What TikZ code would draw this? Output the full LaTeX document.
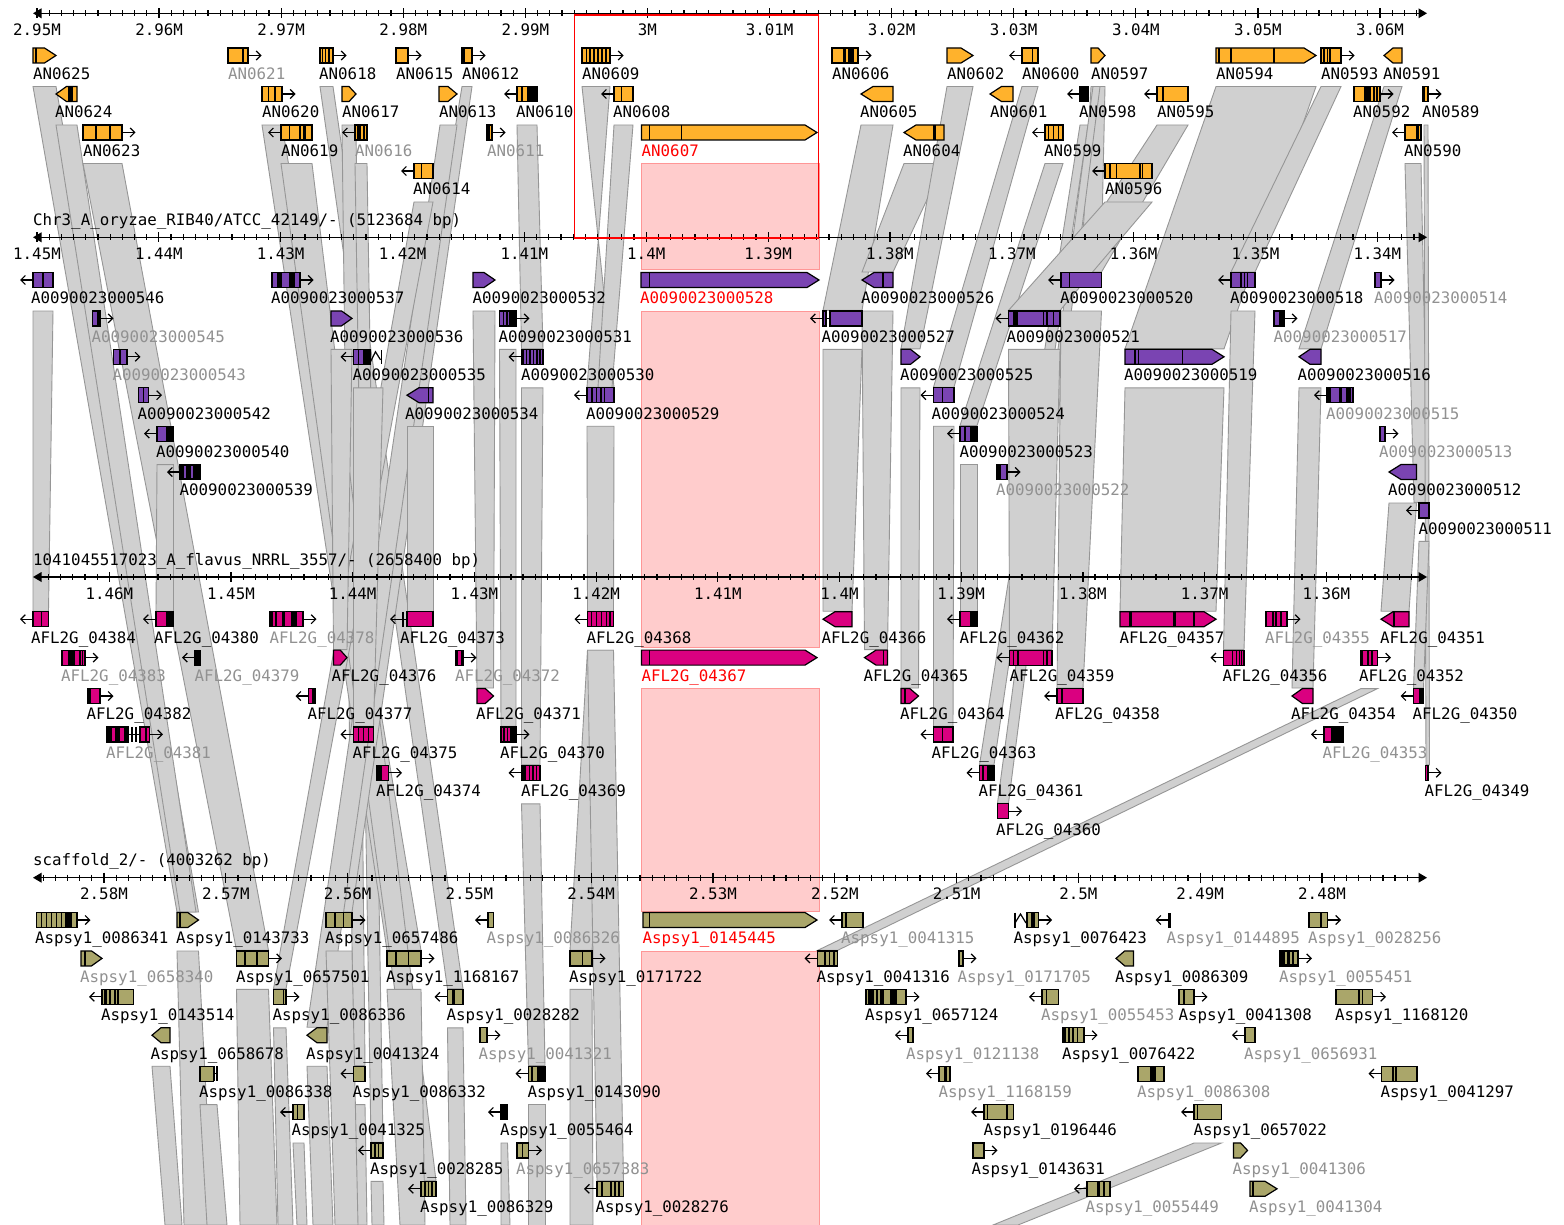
\documentclass[tikz,border=0pt]{standalone}
\usepackage{fontspec}
\newfontfamily\gmono{DejaVu Sans Mono}
\usetikzlibrary{arrows.meta}
\definecolor{cO}{RGB}{255,178,44}
\definecolor{cP}{RGB}{122,68,178}
\definecolor{cM}{RGB}{218,0,128}
\definecolor{cV}{RGB}{170,166,106}
\definecolor{lkf}{RGB}{208,208,208}
\definecolor{lke}{RGB}{150,150,150}
\definecolor{pkf}{RGB}{255,204,204}
\definecolor{pke}{RGB}{255,150,150}
\definecolor{lgy}{RGB}{145,145,145}
\newcounter{lbc}
\newcommand\qf{\gmono\fontsize{15.8}{18}\selectfont}
\newcommand\qGb[3]{\filldraw[gl,fill=#3] (#1,\ry-7.5) rectangle (#2,\ry+7.5);}
\newcommand\qGr[3]{\draw[ar] (#2,\ry) -- ({#2+13.5},\ry);\qGb{#1}{#2}{#3}}
\newcommand\qGl[3]{\draw[ar] (#1,\ry) -- ({#1-13},\ry);\qGb{#1}{#2}{#3}}
\newcommand\qPr[3]{\pgfmathsetmacro\gdd{min(12,0.5*(#2-#1))}\filldraw[gl,fill=#3] (#1,\ry-7.5) -- ({#2-\gdd},\ry-7.5) -- (#2,\ry) -- ({#2-\gdd},\ry+7.5) -- (#1,\ry+7.5) -- cycle;}
\newcommand\qPl[3]{\pgfmathsetmacro\gdd{min(12,0.5*(#2-#1))}\filldraw[gl,fill=#3] (#2,\ry-7.5) -- ({#1+\gdd},\ry-7.5) -- (#1,\ry) -- ({#1+\gdd},\ry+7.5) -- (#2,\ry+7.5) -- cycle;}
\newcommand\qV[1]{\draw[line width=1.2pt] (#1,\ry-7.5) -- (#1,\ry+7.5);}
\newcommand\qK[2]{\fill[black] (#1,\ry-7.5) rectangle (#2,\ry+7.5);}
\newcommand\qLb[2]{\stepcounter{lbc}\node[lbl] (lb\thelbc) at (#1,\ry+23.8) {#2};}
\newcommand\qLg[2]{\stepcounter{lbc}\node[lbl,text=lgy] (lb\thelbc) at (#1,\ry+23.8) {#2};}
\newcommand\qLr[2]{\stepcounter{lbc}\node[lbl,text=red] (lb\thelbc) at (#1,\ry+23.8) {#2};}
\newcommand\qLk[6]{\filldraw[lk] (#1,#3) -- (#2,#3) -- (#5,#6) -- (#4,#6) -- cycle;}
\newcommand\qAxis[1]{\draw[ax] (38,#1) -- (1420,#1); \fill (33,#1) -- (41.5,#1-5) -- (41.5,#1+5) -- cycle; \fill (1427,#1) -- (1418.5,#1-5) -- (1418.5,#1+5) -- cycle;}
\newcommand\qTicks[5]{\foreach \k in {#4,...,#5} {\draw[tk] ({#2+#3*\k},#1-3) -- ({#2+#3*\k},#1+3);}}
\newcommand\qMaj[5]{\foreach \i/\t in {#4} {\draw[tk] ({#2+#3*\i},#1-5) -- ({#2+#3*\i},#1+5); \node[tl] (#5\i) at ({#2+#3*\i},#1+22) {\t};}}
\begin{document}
\begin{tikzpicture}[x=1pt,y=-1pt,
 gl/.style={draw=black,line width=1.2pt},
 lk/.style={fill=lkf,draw=lke,line width=0.9pt},
 pk/.style={fill=pkf,draw=pke,line width=0.9pt},
 ar/.style={line width=1.2pt,-{Straight Barb[length=4.5pt,width=9pt]}},
 ax/.style={line width=1.4pt},
 tk/.style={line width=1.2pt},
 lbl/.style={font=\qf,inner sep=0pt,anchor=base west},
 tl/.style={font=\qf,inner sep=0pt,anchor=base}]
\useasboundingbox[fill=white] (0,0) rectangle (1564,1225);
\begin{scope}
\clip (0,0) rectangle (1564,1225);
% selected (pink) link
\filldraw[pk] (641,163.5) rectangle (819,269);
\filldraw[pk] (641,311) rectangle (819,647);
\filldraw[pk] (641,688.6) rectangle (819,911);
\filldraw[pk] (641,951) rectangle (819,1226);
% links track1 -> track2 (and beyond)
\filldraw[lk] (582,86.5) -- (610,86.5) -- (587,387.2) -- (614,387.2) -- cycle;
\qLk{614}{633}{125}{598}{612}{387.2}
\qLk{517}{537}{125}{521.5}{543}{348.8}
\qLk{320}{333}{86.5}{447.5}{463}{988.8}
\qLk{342}{356}{125}{353.5}{365}{1065.6}
\qLk{355}{367}{163.5}{371}{383}{1142.4}
\qLk{262}{282}{125}{387}{421}{950.4}
\qLk{281}{312}{163.5}{421}{436}{1180.8}
\qLk{462}{472}{86.5}{326}{352}{912}
\qLk{440}{457}{125}{307}{327}{1027.2}
\qLk{414}{433}{202}{273.5}{286}{988.8}
\qLk{33}{56}{86.5}{177}{198.5}{912}
\qLk{56}{77}{125}{180}{196}{912}
\qLk{83}{122}{163.5}{236.5}{268.5}{950.4}
\qLk{861}{893}{125}{823}{862}{310.4}
\qLk{904}{944}{163.5}{862}{893}{272}
\qLk{947}{973}{86.5}{901}{920}{348.8}
\qLk{1022}{1038}{86.5}{933.5}{954}{387.2}
\qLk{1045}{1063}{163.5}{960}{977}{425.6}
\qLk{1091}{1105}{86.5}{1081}{1101}{272}
\qLk{1080}{1088}{125}{979.5}{994}{764.8}
\qLk{1093}{1100}{86.5}{997.5}{1008.5}{803.2}
\qLk{1157}{1188}{125}{1061}{1101.5}{272}
\qLk{1105}{1152}{202}{1008.5}{1060}{310.4}
\qLk{1216}{1316}{86.5}{1125}{1224}{348.8}
\qLk{1321}{1341}{86.5}{1231}{1255}{272}
\qLk{1384}{1402}{86.5}{1299}{1321}{348.8}
\qLk{1405}{1421}{163.5}{1414}{1428}{502.4}
\qLk{1424}{1428}{125}{1426}{1429.5}{764.8}
% links track2 -> track3
\qLk{33}{53}{311}{33}{48.5}{611.2}
\qLk{157}{173.5}{464.6}{156}{173.5}{611.2}
\qLk{331}{352}{349.4}{333.5}{347}{649.6}
\qLk{353.5}{383}{387.8}{353.5}{373.5}{726.4}
\qLk{407}{433}{426.2}{407}{433}{611.2}
\qLk{473}{495}{311}{477}{493.5}{688}
\qLk{499.5}{516}{349.4}{501}{516}{726.4}
\qLk{521.5}{543}{387.8}{521.5}{540}{764.8}
\qLk{587}{614}{426.2}{587.5}{613.5}{611.2}
\qLk{823}{862}{349.4}{823}{852}{611.2}
\qLk{862}{893}{311}{864.5}{887.5}{649.6}
\qLk{901}{920}{387.8}{901}{918.5}{688}
\qLk{933.5}{954}{426.2}{933.5}{953}{726.4}
\qLk{960}{977}{464.6}{960}{977}{611.2}
\qLk{1008.5}{1060}{349.4}{1009.5}{1052}{649.6}
\qLk{1061}{1101.5}{311}{1057}{1083}{688}
\qLk{1125}{1224}{387.8}{1120}{1216}{611.2}
\qLk{1231}{1255}{311}{1223.5}{1244}{649.6}
\qLk{1299}{1321}{387.8}{1292}{1313}{688}
\qLk{1389}{1416.5}{503}{1381}{1409}{611.2}
\qLk{1419}{1429}{541.4}{1413.5}{1423.5}{688}
% links track3 -> track4
\qLk{521.5}{540}{803.8}{528.5}{545}{1065.6}
\qLk{587.5}{613.5}{650.2}{570}{592}{950.4}
\qLk{587.5}{613.5}{650.2}{597}{623.5}{1180.8}
\qLk{1361}{1377.5}{688.6}{817.5}{837.5}{950.4}
% links track4 -> below
\qLk{177}{198.5}{951}{184}{213}{1225}
\qLk{236.5}{268.5}{989.4}{240}{277}{1225}
\qLk{152}{170}{1066.2}{165}{182}{1225}
\qLk{200}{217}{1104.6}{207}{227}{1225}
\qLk{273.5}{286}{1027.8}{278}{293}{1225}
\qLk{307}{327}{1066.2}{313}{333}{1225}
\qLk{293}{304}{1143}{297}{307}{1225}
\qLk{353.5}{365}{1104.6}{355}{367}{1225}
\qLk{371}{383}{1181.4}{372}{384}{1225}
\qLk{326}{352}{951}{335}{358}{1225}
\qLk{387}{421}{989.4}{400}{425}{1225}
\qLk{447.5}{463}{1027.8}{450}{466}{1225}
\qLk{501}{507.5}{1143}{501}{510}{1225}
\qLk{528.5}{545}{1104.6}{528.5}{545}{1225}
\qLk{570}{592}{989.4}{570}{593}{1225}
\qLk{1194}{1221.5}{1143}{993}{1018}{1225}
\end{scope}
% axes
\qAxis{13.3}
\qTicks{13.3}{37}{12.209}{0}{113}
\qMaj{13.3}{37}{122.09}{0/2.95M,1/2.96M,2/2.97M,3/2.98M,4/2.99M,5/3M,6/3.01M,7/3.02M,8/3.03M,9/3.04M,10/3.05M,11/3.06M}{ma}
\qAxis{237.3}
\qTicks{237.3}{37}{12.185}{0}{113}
\qMaj{237.3}{37}{121.85}{0/1.45M,1/1.44M,2/1.43M,3/1.42M,4/1.41M,5/1.4M,6/1.39M,7/1.38M,8/1.37M,9/1.36M,10/1.35M,11/1.34M}{mb}
\qAxis{577}
\qTicks{577}{109.3}{12.17}{-5}{107}
\qMaj{577}{109.3}{121.7}{0/1.46M,1/1.45M,2/1.44M,3/1.43M,4/1.42M,5/1.41M,6/1.4M,7/1.39M,8/1.38M,9/1.37M,10/1.36M}{mc}
\qAxis{877.7}
\qTicks{877.7}{104}{12.18}{-5}{107}
\qMaj{877.7}{104}{121.8}{0/2.58M,1/2.57M,2/2.56M,3/2.55M,4/2.54M,5/2.53M,6/2.52M,7/2.51M,8/2.5M,9/2.49M,10/2.48M}{md}
\node[lbl] (title2) at (33,226) {Chr3\_A\_oryzae\_RIB40/ATCC\_42149/- (5123684 bp)};
\node[lbl] (title3) at (33,565.5) {1041045517023\_A\_flavus\_NRRL\_3557/- (2658400 bp)};
\node[lbl] (title4) at (33,865.5) {scaffold\_2/- (4003262 bp)};
% ===== track 1 genes =====
\def\ry{55.5}
\qPr{33}{56}{cO}\qV{36}\qLb{33}{AN0625}
\qGr{228}{248}{cO}\qV{243}\qLg{228}{AN0621}
\qGr{320}{333}{cO}\qV{322.5}\qV{325.5}\qV{329}\qLb{319}{AN0618}
\qGr{396}{408}{cO}\qLb{396}{AN0615}
\qGr{462}{472}{cO}\qK{462}{465}\qLb{462}{AN0612}
\qGr{582}{610}{cO}\qV{586.5}\qV{590}\qV{594}\qV{598}\qV{602}\qV{606}\qLb{582}{AN0609}
\qGr{832}{858}{cO}\qK{843}{846}\qK{848}{854}\qLb{832}{AN0606}
\qPr{947}{973}{cO}\qLb{947}{AN0602}
\qGl{1022}{1038}{cO}\qV{1032.5}\qLb{1022}{AN0600}
\qPr{1091}{1105}{cO}\qLb{1091}{AN0597}
\qPr{1216}{1316}{cO}\qK{1218}{1220}\qV{1231}\qV{1274}\qLb{1216}{AN0594}
\qGr{1321}{1341}{cO}\qV{1324}\qV{1327.3}\qV{1330}\qLb{1321}{AN0593}
\qPl{1384}{1402}{cO}\qLb{1383}{AN0591}
\def\ry{94}
\qPl{56}{77}{cO}\qK{68}{72.5}\qLb{55}{AN0624}
\qGr{262}{282}{cO}\qV{268.5}\qV{275}\qLb{262}{AN0620}
\qPr{342}{356}{cO}\qLb{342}{AN0617}
\qPr{439}{457}{cO}\qLb{439}{AN0613}
\qGl{517}{537}{cO}\qV{522}\qK{527}{537}\qLb{516}{AN0610}
\qGl{614}{633}{cO}\qV{621.5}\qLb{613}{AN0608}
\qPl{861}{893}{cO}\qLb{860}{AN0605}
\qPl{990}{1013}{cO}\qLb{990}{AN0601}
\qGl{1080}{1088}{black}\qLb{1079}{AN0598}
\qGl{1157}{1188}{cO}\qV{1163}\qLb{1157}{AN0595}
\qGr{1354}{1380}{cO}\qK{1364}{1371}\qV{1374}\qV{1377}\qLb{1353}{AN0592}
\qGr{1423}{1428}{cO}\qV{1424}\qLb{1422}{AN0589}
\def\ry{132.5}
\qGr{83}{122}{cO}\qV{96}\qV{110}\qLb{83}{AN0623}
\qGl{281}{312}{cO}\qV{289.5}\qV{300}\qK{303}{306}\qLb{281}{AN0619}
\qGl{355}{367}{cO}\qK{357}{361}\qV{364}\qLg{355}{AN0616}
\qGr{487}{492}{cO}\qV{489}\qLg{487}{AN0611}
\qPr{641.5}{817}{cO}\qV{649.5}\qV{681.5}\qLr{641.5}{AN0607}
\qPl{904}{944}{cO}\qK{933}{936}\qLb{903}{AN0604}
\qGl{1045}{1063}{cO}\qV{1048.5}\qV{1053.5}\qV{1058.5}\qLb{1044}{AN0599}
\qGl{1405}{1421}{cO}\qK{1415.5}{1419}\qLb{1404}{AN0590}
\def\ry{171}
\qGl{414}{433}{cO}\qV{421.5}\qLb{413}{AN0614}
\qGl{1105}{1152}{cO}\qV{1110}\qV{1116.5}\qV{1140}\qV{1142.5}\qLb{1105}{AN0596}
% ===== track 2 genes =====
\def\ry{280}
\qGl{33}{53}{cP}\qV{43}\qLb{31}{A0090023000546}
\qGr{272}{300}{cP}\qK{277}{282}\qK{289}{295}\qLb{271}{A0090023000537}
\qPr{473}{495}{cP}\qLb{472.5}{A0090023000532}
\qPr{641}{819}{cP}\qV{649.5}\qLr{640}{A0090023000528}
\qPl{862}{893}{cP}\qV{883}\qLb{861}{A0090023000526}
\qGl{1061}{1101.5}{cP}\qV{1069.5}\qLb{1060}{A0090023000520}
\qGl{1231}{1255}{cP}\qV{1241}\qV{1244.5}\qV{1247.5}\qLb{1230}{A0090023000518}
\qGr{1375}{1381}{cP}\qLg{1374}{A0090023000514}
\def\ry{318.4}
\qGr{92.5}{100}{cP}\qV{98}\qLg{91.5}{A0090023000545}
\qPr{331}{352}{cP}\qLb{330}{A0090023000536}
\qGr{499.5}{516}{cP}\qV{503.5}\qV{507}\qK{508.5}{516}\qLb{498.5}{A0090023000531}
\draw[ar] (823,\ry) -- (810,\ry);
\draw[line width=1.2pt] (826,\ry) -- (830,\ry);
\qGb{823}{826}{cP}\qGb{830}{862}{cP}\qLb{821.5}{A0090023000527}
\qGl{1008.5}{1060}{cP}\qK{1012.5}{1017.5}\qV{1043.5}\qV{1047}\qV{1053.5}\qLb{1006.5}{A0090023000521}
\qGr{1274}{1284}{cP}\qK{1279}{1284}\qLg{1273.5}{A0090023000517}
\def\ry{356.8}
\qGr{113.5}{127}{cP}\qV{120}\qLg{112.5}{A0090023000543}
\qGl{353.5}{370}{cP}\qV{358.5}\qK{363}{370}
\draw[line width=1.2pt] (370,\ry+6) -- (375.5,\ry-5) -- (380.5,\ry+3);
\draw[line width=1.6pt] (381.5,\ry-6.5) -- (381.5,\ry+7);
\qLb{352.5}{A0090023000535}
\qGl{521.5}{543}{cP}\qK{521.5}{524}\qV{526.5}\qV{530}\qV{533.5}\qV{537}\qV{540}\qLb{521}{A0090023000530}
\qPr{901}{920}{cP}\qLb{900}{A0090023000525}
\qPr{1125}{1224}{cP}\qK{1134}{1136}\qV{1138.5}\qV{1182.5}\qLb{1124}{A0090023000519}
\qPl{1299}{1321}{cP}\qLb{1297.5}{A0090023000516}
\def\ry{395.2}
\qGr{138.5}{148.5}{cP}\qV{143.5}\qLb{137.5}{A0090023000542}
\qPl{407}{433}{cP}\qV{428.5}\qLb{405}{A0090023000534}
\qGl{587}{614}{cP}\qV{592}\qV{596.5}\qK{600}{602}\qV{604.5}\qLb{586}{A0090023000529}
\qGl{933.5}{954}{cP}\qV{942.5}\qLb{931.5}{A0090023000524}
\qGl{1327}{1353}{cP}\qK{1327}{1331}\qK{1339}{1342}\qK{1346}{1351}\qLg{1326}{A0090023000515}
\def\ry{433.6}
\qGl{157}{173.5}{cP}\qK{165.5}{173.5}\qLb{156}{A0090023000540}
\qGl{960}{977}{cP}\qV{965}\qK{969.5}{977}\qLb{959.5}{A0090023000523}
\qGr{1380}{1385}{cP}\qLg{1379}{A0090023000513}
\def\ry{472}
\qGl{180}{200}{black}\fill[cP] (183.5,\ry-6) rectangle (185.5,\ry+6);\fill[cP] (190.5,\ry-6) rectangle (192.5,\ry+6);\qLb{179.5}{A0090023000539}
\qGr{997}{1007}{cP}\qK{997}{1000.5}\qLg{996}{A0090023000522}
\qPl{1389}{1416.5}{cP}\qLb{1388}{A0090023000512}
\def\ry{510.4}
\qGl{1419}{1429}{cP}\qLb{1418.5}{A0090023000511}
% ===== track 3 genes =====
\def\ry{619.2}
\qGl{33}{48.5}{cM}\qV{41.5}\qLb{31}{AFL2G\_04384}
\qGl{156}{173.5}{cM}\qK{166}{173.5}\qLb{154}{AFL2G\_04380}
\qGr{270}{303}{cM}\qK{270}{273}\qV{276}\qK{282}{285}\qK{291}{297}\qLg{269.5}{AFL2G\_04378}
\draw[ar] (402.5,\ry) -- (390,\ry);
\draw[line width=1.2pt] (402.5,\ry) -- (407,\ry);
\draw[line width=2pt] (403,\ry-7.5) -- (403,\ry+7.5);
\qGb{407}{433}{cM}\qLb{400}{AFL2G\_04373}
\qGl{587.5}{613.5}{cM}\qV{591.5}\qV{596.5}\qV{601.5}\qV{606.5}\qV{610}\qLb{586.5}{AFL2G\_04368}
\qPl{823}{852}{cM}\qLb{821.5}{AFL2G\_04366}
\qGl{960}{977}{cM}\qK{969.5}{977}\qLb{959.5}{AFL2G\_04362}
\qPr{1120}{1216}{cM}\qK{1129}{1132}\qK{1173}{1176}\qV{1194}\qLb{1119.5}{AFL2G\_04357}
\qGr{1266}{1287}{cM}\qV{1273}\qV{1276}\qK{1280}{1282}\qLg{1265}{AFL2G\_04355}
\qPl{1381}{1409}{cM}\qV{1394}\qLb{1380}{AFL2G\_04351}
\def\ry{657.6}
\qGr{62}{85}{cM}\qK{68}{75}\qV{80}\qV{82.5}\qLg{61}{AFL2G\_04383}
\qGl{195}{200}{black}\qLg{194.5}{AFL2G\_04379}
\qPr{333.5}{347}{cM}\qLb{331.5}{AFL2G\_04376}
\qGr{456}{463}{cM}\qK{456}{458}\qK{460.5}{463}\qLg{455}{AFL2G\_04372}
\qPr{641.5}{817}{cM}\qV{649.5}\qLr{641.5}{AFL2G\_04367}
\qPl{864.5}{887.5}{cM}\qV{883.5}\qLb{863.5}{AFL2G\_04365}
\qGl{1009.5}{1052}{cM}\qV{1013.5}\qK{1016.5}{1018.5}\qV{1043.5}\qV{1047}\qLb{1009.5}{AFL2G\_04359}
\qGl{1223.5}{1244}{cM}\qV{1232.5}\qK{1235.5}{1237}\qV{1239.5}\qV{1241.5}\qLb{1222.5}{AFL2G\_04356}
\qGr{1361}{1377.5}{cM}\qK{1361}{1363}\qV{1368}\qV{1372}\qLb{1359}{AFL2G\_04352}
\def\ry{696}
\qGr{88}{100}{cM}\qK{88}{90.5}\qLb{86.5}{AFL2G\_04382}
\qGl{308.5}{315}{cM}\qK{311.5}{315}\qLb{307.5}{AFL2G\_04377}
\qPr{477}{493.5}{cM}\qLb{476}{AFL2G\_04371}
\qPr{901}{918.5}{cM}\qV{905}\qLb{900}{AFL2G\_04364}
\qGl{1057}{1083}{cM}\qV{1062}\qLb{1055}{AFL2G\_04358}
\qPl{1292}{1313}{cM}\qLb{1291}{AFL2G\_04354}
\qGl{1413.5}{1423.5}{cM}\qK{1419}{1423.5}\qLb{1412.5}{AFL2G\_04350}
\def\ry{734.4}
\draw[line width=1.2pt] (128.5,\ry) -- (140,\ry);
\qV{132}\qV{136}
\qGb{107}{128.5}{cM}\qK{107}{111.5}\qK{115}{119.5}\qK{124}{128.5}
\qGr{140}{149.5}{cM}\qK{145}{147}\qLg{106}{AFL2G\_04381}
\qGl{353.5}{373.5}{cM}\qV{358.5}\qV{363.5}\qV{368.5}\qLb{352.5}{AFL2G\_04375}
\qGr{501}{516}{cM}\qV{504}\qV{507.5}\qK{509.5}{516}\qLb{500}{AFL2G\_04370}
\qGl{933.5}{953}{cM}\qV{942.5}\qLb{931.5}{AFL2G\_04363}
\qGl{1324}{1343.5}{cM}\qK{1330.5}{1343.5}\qLg{1322.5}{AFL2G\_04353}
\def\ry{772.8}
\qGr{377}{388.5}{cM}\qK{377}{382}\qLb{376}{AFL2G\_04374}
\qGl{521.5}{540}{cM}\qK{521.5}{526}\qV{529.5}\qV{533}\qV{536.5}\qLb{521}{AFL2G\_04369}
\qGl{979.5}{994}{cM}\qV{983}\qK{986.5}{994}\qLb{978.5}{AFL2G\_04361}
\qGr{1425.5}{1428}{cM}\qLb{1424.5}{AFL2G\_04349}
\def\ry{811.2}
\qGr{997.5}{1008.5}{cM}\qLb{996}{AFL2G\_04360}
% ===== track 4 genes =====
\def\ry{920}
\qGr{36.5}{77}{cV}\qV{41.7}\qV{46.7}\qV{51.7}\qV{56.7}\qV{61.7}\qK{65}{72}\qLb{35}{Aspsy1\_0086341}
\qPr{177}{198.5}{cV}\qV{180}\qLb{176}{Aspsy1\_0143733}
\qGr{326}{352}{cV}\qV{335}\qV{343.5}\qLb{325}{Aspsy1\_0657486}
\qGl{488}{493.5}{cV}\qLg{486.5}{Aspsy1\_0086326}
\qPr{643}{817}{cV}\qV{649.5}\qLr{642.5}{Aspsy1\_0145445}
\qGl{842}{863}{cV}\qV{846}\qLg{841}{Aspsy1\_0041315}
\draw[line width=1.2pt] (1015,\ry-7.5) -- (1015,\ry+7.5);
\draw[line width=1.2pt] (1015,\ry+3) -- (1020.5,\ry-6) -- (1026,\ry+3);
\qGr{1027}{1038.5}{cV}\qK{1031}{1035}\qLb{1013.5}{Aspsy1\_0076423}
\draw[ar] (1168.5,\ry) -- (1155.5,\ry);\qK{1168}{1171}\qLg{1166.5}{Aspsy1\_0144895}
\qGr{1309}{1327.5}{cV}\qK{1319.5}{1321.5}\qLg{1308}{Aspsy1\_0028256}
\def\ry{958.4}
\qPr{81}{102}{cV}\qV{85}\qLg{80}{Aspsy1\_0658340}
\qGr{236.5}{268.5}{cV}\qV{245}\qV{257}\qLb{236}{Aspsy1\_0657501}
\qGr{387}{421}{cV}\qV{396}\qV{408.5}\qLb{386}{Aspsy1\_1168167}
\qGr{570}{592}{cV}\qV{582.5}\qLb{569}{Aspsy1\_0171722}
\qGl{817.5}{837.5}{cV}\qK{823.5}{826}\qK{828.5}{830}\qK{833}{834.5}\qLb{816.5}{Aspsy1\_0041316}
\qGr{959}{963}{cV}\qV{959.5}\qLg{957.5}{Aspsy1\_0171705}
\qPl{1116}{1133.5}{cV}\qLb{1115}{Aspsy1\_0086309}
\qGr{1280}{1298.5}{black}\fill[cV] (1285,\ry-6) rectangle (1287,\ry+6);\fill[cV] (1289.5,\ry-6) rectangle (1291.5,\ry+6);\fill[cV] (1293.5,\ry-6) rectangle (1297,\ry+6);\qLg{1279}{Aspsy1\_0055451}
\def\ry{996.8}
\qGl{102}{133.5}{cV}\qK{104}{107}\qV{110}\qK{113.5}{116}\qV{118}\qLb{101}{Aspsy1\_0143514}
\qGr{273.5}{286}{cV}\qV{283.5}\qLb{272.5}{Aspsy1\_0086336}
\qGl{447.5}{463}{cV}\qK{452}{454.5}\qLb{446.5}{Aspsy1\_0028282}
\qGr{866}{906}{cV}\qK{868}{873.5}\qV{877}\qK{880}{883.5}\qK{889.5}{896.5}\qLb{865}{Aspsy1\_0657124}
\qGl{1042}{1058.5}{cV}\qV{1046.5}\qLg{1041}{Aspsy1\_0055453}
\qGr{1179}{1194}{cV}\qV{1184}\qLb{1178.5}{Aspsy1\_0041308}
\qGr{1336}{1372.5}{cV}\qV{1359}\qV{1362.5}\qLb{1335}{Aspsy1\_1168120}
\def\ry{1035.2}
\qPl{152}{170}{cV}\qLb{150.5}{Aspsy1\_0658678}
\qPl{307}{327}{cV}\qLb{306}{Aspsy1\_0041324}
\qGr{480}{487}{cV}\qLg{478.5}{Aspsy1\_0041321}
\qGl{908}{913}{cV}\qLg{906}{Aspsy1\_0121138}
\qGr{1063}{1084}{cV}\qK{1063}{1066}\qV{1069}\qV{1073}\qV{1077.5}\qLb{1062}{Aspsy1\_0076422}
\qGl{1245}{1255}{cV}\qLg{1244}{Aspsy1\_0656931}
\def\ry{1073.6}
\draw[line width=1.2pt] (213.5,\ry) -- (217,\ry);
\qGb{200}{213.5}{cV}\qV{214.5}\qV{217}\qLb{199}{Aspsy1\_0086338}
\qGl{353.5}{365}{cV}\qLb{352.5}{Aspsy1\_0086332}
\qGl{528.5}{545}{cV}\qV{532}\qK{537}{545}\qLb{527.5}{Aspsy1\_0143090}
\qGl{939}{950}{cV}\qK{943.5}{946.5}\qLg{938.5}{Aspsy1\_1168159}
\qGb{1138}{1164}{cV}\qK{1150}{1156}\qLg{1137}{Aspsy1\_0086308}
\qGl{1381.5}{1417}{cV}\qK{1392}{1394}\qV{1396}\qLb{1380.5}{Aspsy1\_0041297}
\def\ry{1112}
\qGl{293}{304}{cV}\qV{297.5}\qLb{291.5}{Aspsy1\_0041325}
\qGl{501}{507.5}{black}\qLb{500}{Aspsy1\_0055464}
\qGl{984}{1013.5}{cV}\qV{987.5}\qK{1005.5}{1008}\qLb{983.5}{Aspsy1\_0196446}
\qGl{1194}{1221.5}{cV}\qV{1197.5}\qLb{1193.5}{Aspsy1\_0657022}
\def\ry{1150.4}
\qGl{371}{383}{cV}\qV{375}\qV{378.5}\qLb{370}{Aspsy1\_0028285}
\qGr{517}{528.5}{cV}\qV{522.5}\qLg{516}{Aspsy1\_0657383}
\qGr{973}{984}{cV}\qLb{971.5}{Aspsy1\_0143631}
\qPr{1233.5}{1247.5}{cV}\qLg{1232.5}{Aspsy1\_0041306}
\def\ry{1188.8}
\qGl{421}{436}{cV}\qV{425}\qV{428.5}\qV{432}\qLb{420}{Aspsy1\_0086329}
\qGl{597}{623.5}{cV}\qV{602}\qK{609.5}{611.5}\qK{614}{616}\qK{618}{620}\qLb{595.5}{Aspsy1\_0028276}
\qGl{1087}{1110}{cV}\qK{1097}{1099.5}\qK{1103}{1105}\qLg{1085.5}{Aspsy1\_0055449}
\qPr{1250}{1277}{cV}\qK{1251.5}{1254}\qLg{1249}{Aspsy1\_0041304}
% selection box
\draw[red,line width=1.6pt] (574.5,15) rectangle (818.5,238);
\end{tikzpicture}
\end{document}
